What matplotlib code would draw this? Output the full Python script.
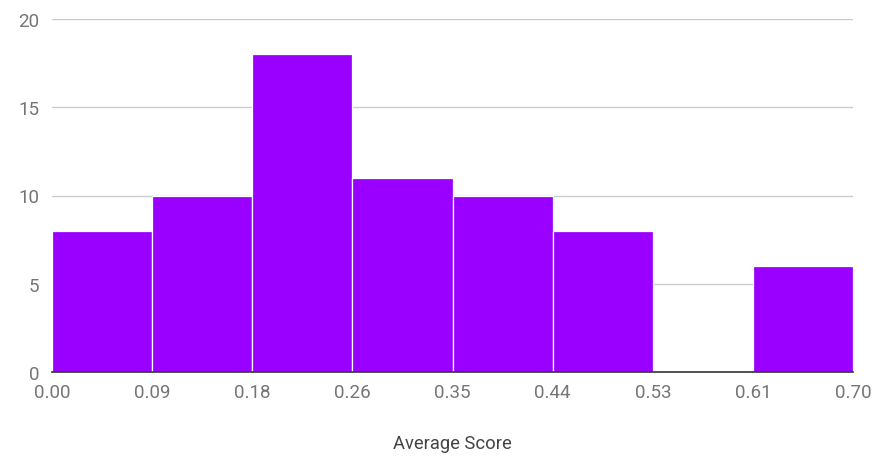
import matplotlib
matplotlib.use("Agg")
import matplotlib.pyplot as plt

# Histogram of average scores: bin edges and counts per bin
bin_edges = [0.0, 0.0875, 0.175, 0.2625, 0.35, 0.4375, 0.525, 0.6125, 0.70]
counts = [8, 10, 18, 11, 10, 8, 0, 6]
x_tick_labels = ["0.00", "0.09", "0.18", "0.26", "0.35", "0.44", "0.53", "0.61", "0.70"]
y_ticks = [0, 5, 10, 15, 20]

bar_color = "#9900ff"
grid_color = "#cccccc"
label_color = "#757575"
title_color = "#444444"

plt.rcParams["font.family"] = ["Roboto", "DejaVu Sans"]

W, H = 885, 460
fig = plt.figure(figsize=(W / 100, H / 100), dpi=100)
ax = fig.add_axes([52 / W, (H - 373) / H, (853 - 52) / W, (373 - 20) / H])

lefts = bin_edges[:-1]
widths = [b - a for a, b in zip(bin_edges[:-1], bin_edges[1:])]
ax.bar(lefts, counts, width=widths, align="edge", color=bar_color,
       edgecolor="white", linewidth=0.9, zorder=2)

ax.set_xlim(bin_edges[0], bin_edges[-1])
ax.set_ylim(y_ticks[0], y_ticks[-1])
ax.set_xticks(bin_edges)
ax.set_xticklabels(x_tick_labels)
ax.set_yticks(y_ticks)
ax.set_yticklabels([str(v) for v in y_ticks])

ax.tick_params(axis="both", length=0, labelsize=13.5, labelcolor=label_color)
ax.tick_params(axis="x", pad=8)
ax.tick_params(axis="y", pad=9)

for s in ["top", "right", "left"]:
    ax.spines[s].set_visible(False)
ax.spines["bottom"].set_color("#333333")
ax.spines["bottom"].set_linewidth(1.2)
ax.spines["bottom"].set_zorder(3)

for y in y_ticks[1:]:
    ax.axhline(y, color=grid_color, linewidth=1.0, zorder=1)

ax.set_xlabel("Average Score", fontsize=13.2, color=title_color, labelpad=24)

fig.savefig("out.png", dpi=100, facecolor="white")
